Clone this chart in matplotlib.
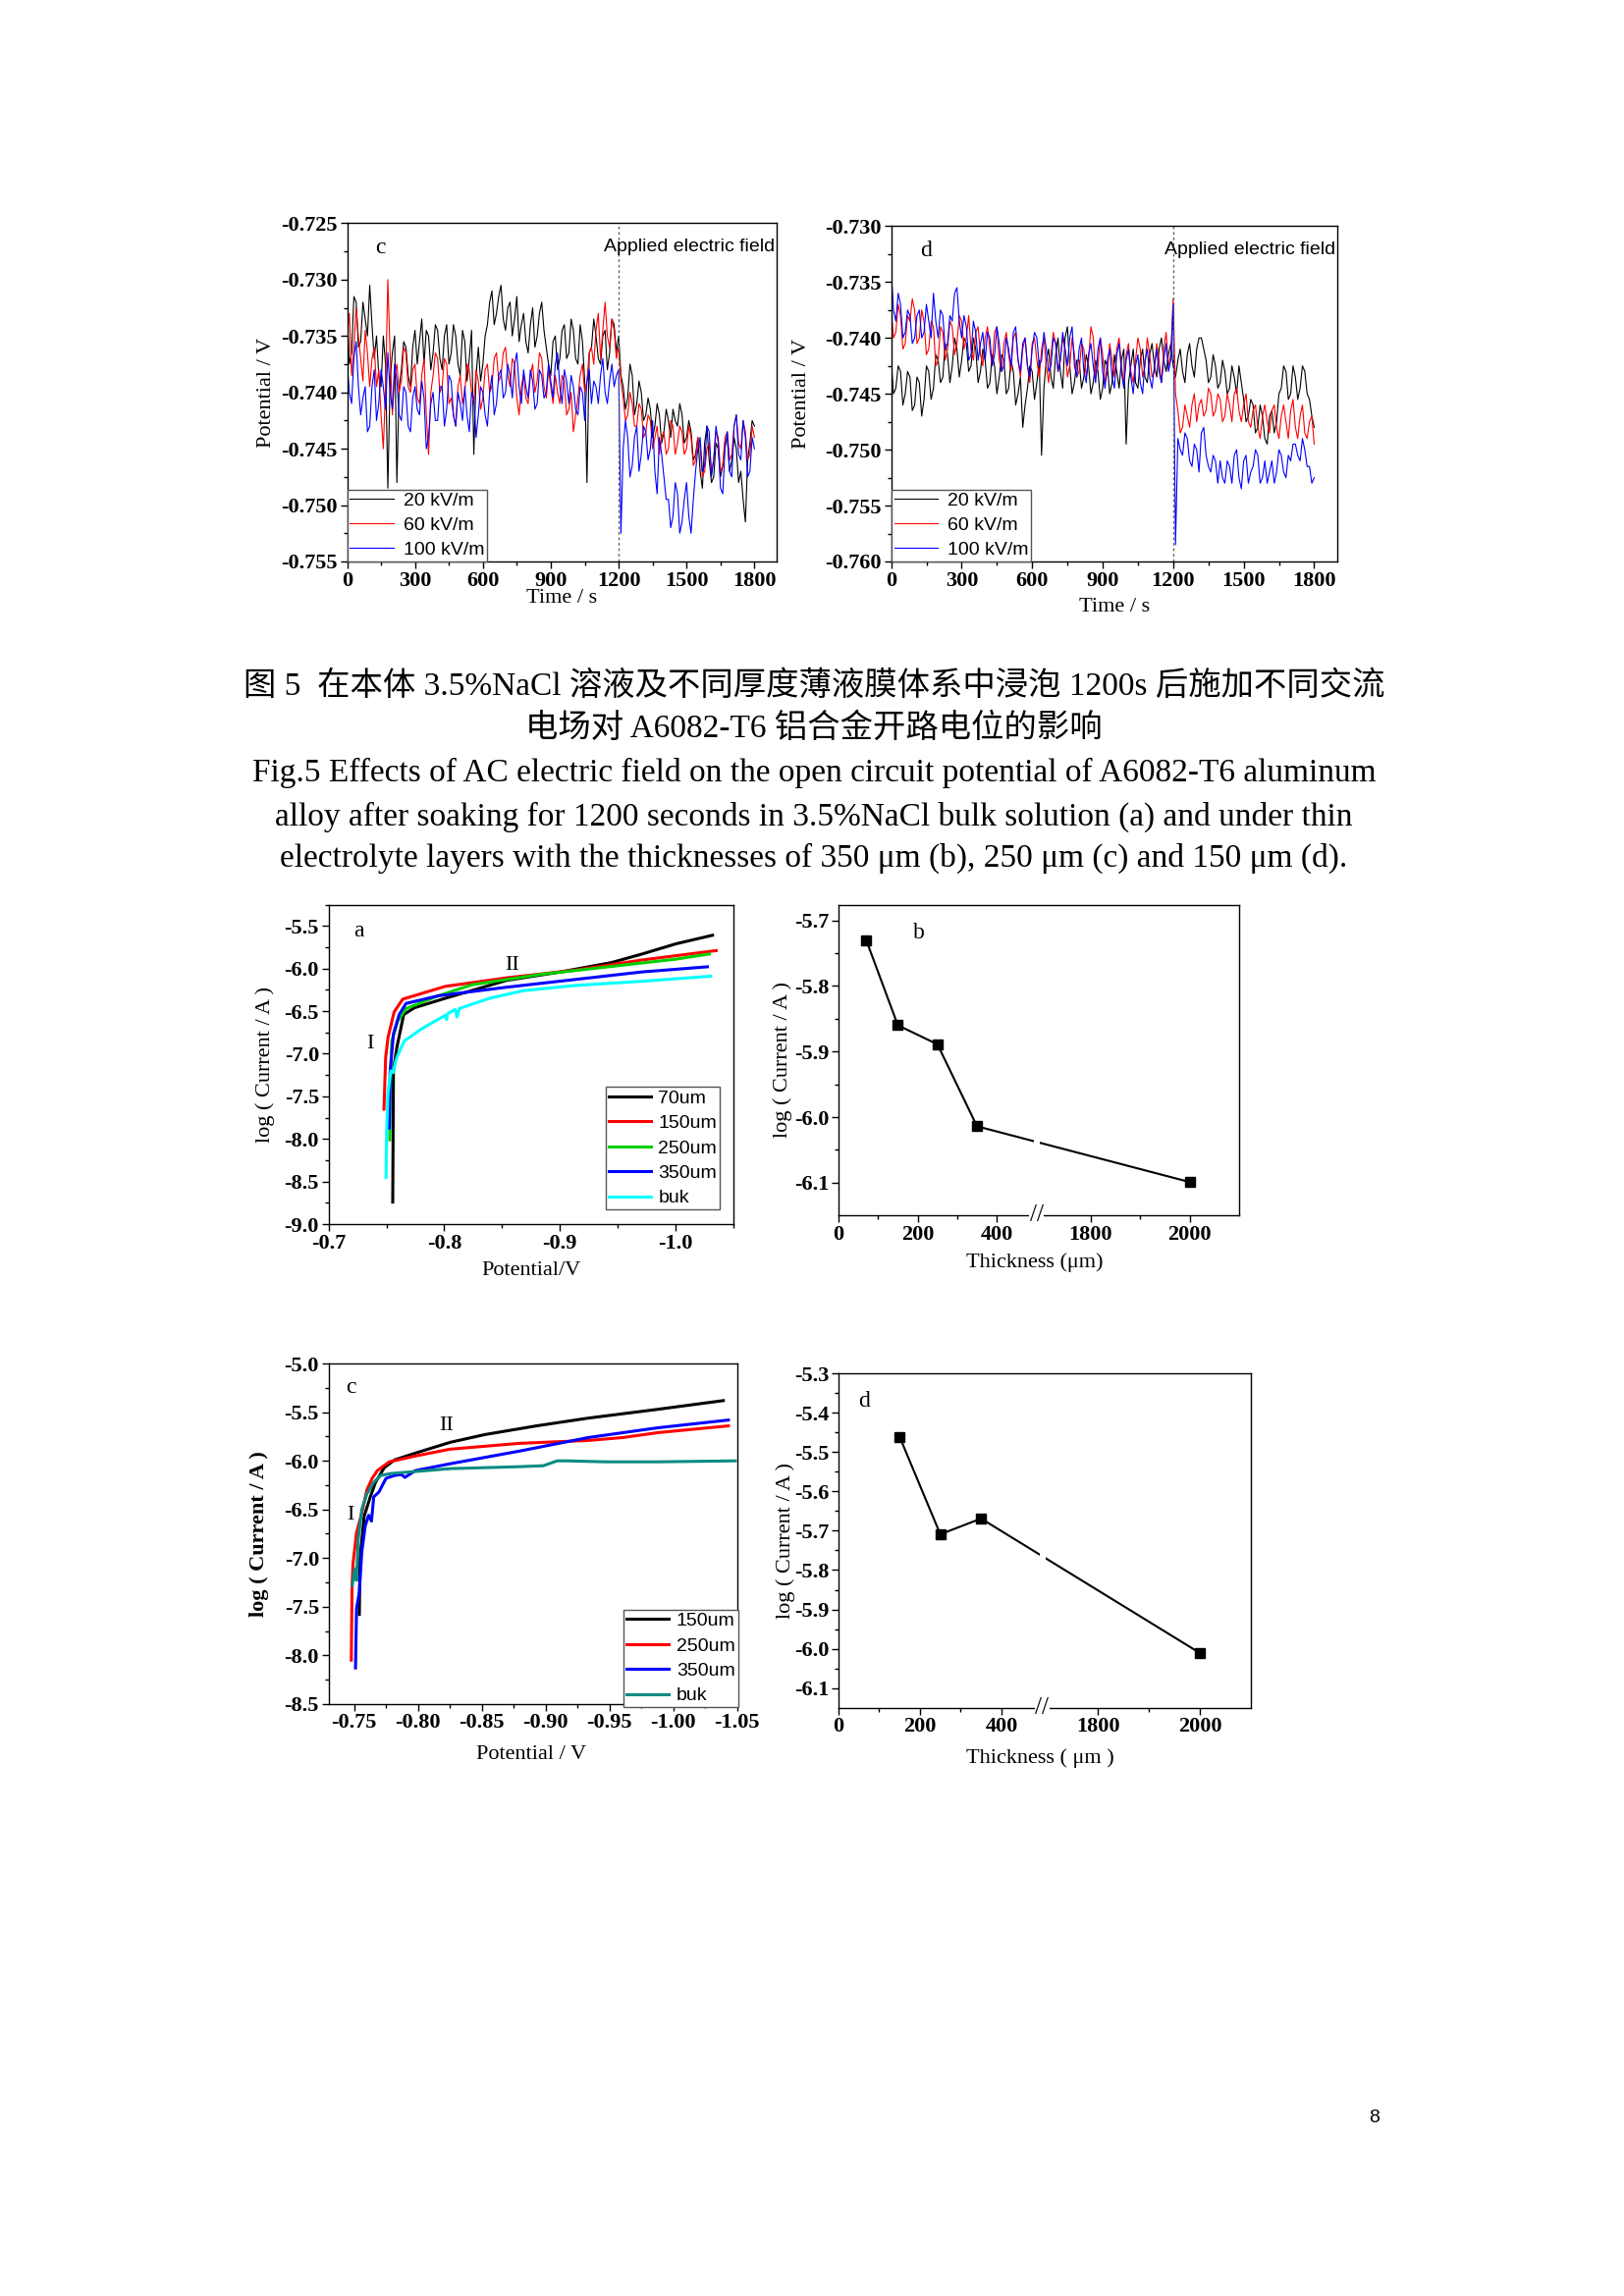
import numpy as np
import matplotlib
matplotlib.use("Agg")
import matplotlib.pyplot as plt
from matplotlib.transforms import blended_transform_factory

plt.rcParams['font.family'] = ['Liberation Serif', 'Noto Sans CJK SC']

# ---- OCP data (top row), one value every 10 s from 0 to 1800 s ----
c_20 = [-0.7330, -0.7375, -0.7365, -0.7315, -0.7320, -0.7360, -0.7355, -0.7320, -0.7335, -0.7350,
        -0.7305, -0.7340, -0.7370, -0.7350, -0.7385, -0.7395, -0.7350, -0.7375, -0.7485, -0.7390,
        -0.7365, -0.7350, -0.7480, -0.7395, -0.7380, -0.7355, -0.7360, -0.7385, -0.7395, -0.7360,
        -0.7345, -0.7375, -0.7355, -0.7335, -0.7375, -0.7345, -0.7350, -0.7380, -0.7365, -0.7340,
        -0.7345, -0.7370, -0.7380, -0.7350, -0.7340, -0.7375, -0.7365, -0.7340, -0.7350, -0.7375,
        -0.7385, -0.7345, -0.7355, -0.7390, -0.7370, -0.7345, -0.7455, -0.7385, -0.7360, -0.7390,
        -0.7375, -0.7350, -0.7340, -0.7320, -0.7310, -0.7340, -0.7330, -0.7315, -0.7305, -0.7335,
        -0.7345, -0.7325, -0.7320, -0.7350, -0.7335, -0.7315, -0.7355, -0.7340, -0.7330, -0.7355,
        -0.7365, -0.7340, -0.7325, -0.7360, -0.7350, -0.7330, -0.7320, -0.7345, -0.7360, -0.7375,
        -0.7385, -0.7355, -0.7350, -0.7380, -0.7370, -0.7345, -0.7340, -0.7370, -0.7365, -0.7335,
        -0.7345, -0.7370, -0.7375, -0.7340, -0.7355, -0.7390, -0.7480, -0.7365, -0.7360, -0.7335,
        -0.7350, -0.7370, -0.7375, -0.7350, -0.7345, -0.7380, -0.7365, -0.7335, -0.7340, -0.7365,
        -0.7350, -0.7385, -0.7395, -0.7415, -0.7405, -0.7375, -0.7385, -0.7420, -0.7410, -0.7390,
        -0.7400, -0.7425, -0.7420, -0.7405, -0.7415, -0.7440, -0.7430, -0.7410, -0.7420, -0.7445,
        -0.7435, -0.7415, -0.7425, -0.7440, -0.7415, -0.7425, -0.7430, -0.7410, -0.7420, -0.7445,
        -0.7440, -0.7425, -0.7435, -0.7460, -0.7455, -0.7440, -0.7470, -0.7485, -0.7445, -0.7430,
        -0.7460, -0.7480, -0.7475, -0.7445, -0.7450, -0.7475, -0.7465, -0.7445, -0.7440, -0.7470,
        -0.7460, -0.7440, -0.7450, -0.7480, -0.7470, -0.7495, -0.7515, -0.7460, -0.7445, -0.7425,
        -0.7430]
c_60 = [-0.7350, -0.7330, -0.7385, -0.7360, -0.7325, -0.7350, -0.7370, -0.7390, -0.7345, -0.7365,
        -0.7395, -0.7370, -0.7360, -0.7395, -0.7380, -0.7420, -0.7450, -0.7395, -0.7300, -0.7365,
        -0.7420, -0.7385, -0.7375, -0.7400, -0.7390, -0.7360, -0.7365, -0.7395, -0.7400, -0.7380,
        -0.7375, -0.7405, -0.7410, -0.7385, -0.7370, -0.7420, -0.7455, -0.7400, -0.7385, -0.7365,
        -0.7370, -0.7400, -0.7395, -0.7370, -0.7375, -0.7410, -0.7405, -0.7420, -0.7430, -0.7395,
        -0.7385, -0.7410, -0.7400, -0.7375, -0.7380, -0.7400, -0.7410, -0.7380, -0.7390, -0.7415,
        -0.7405, -0.7380, -0.7375, -0.7400, -0.7395, -0.7370, -0.7365, -0.7390, -0.7385, -0.7365,
        -0.7360, -0.7385, -0.7395, -0.7370, -0.7375, -0.7405, -0.7420, -0.7395, -0.7385, -0.7405,
        -0.7410, -0.7385, -0.7375, -0.7400, -0.7390, -0.7365, -0.7370, -0.7395, -0.7405, -0.7380,
        -0.7395, -0.7410, -0.7385, -0.7400, -0.7410, -0.7385, -0.7390, -0.7420, -0.7415, -0.7400,
        -0.7435, -0.7420, -0.7405, -0.7385, -0.7375, -0.7400, -0.7390, -0.7365, -0.7360, -0.7375,
        -0.7345, -0.7330, -0.7370, -0.7345, -0.7320, -0.7350, -0.7360, -0.7335, -0.7345, -0.7370,
        -0.7360, -0.7390, -0.7405, -0.7425, -0.7420, -0.7400, -0.7410, -0.7430, -0.7430, -0.7410,
        -0.7415, -0.7440, -0.7435, -0.7420, -0.7425, -0.7450, -0.7440, -0.7430, -0.7455, -0.7440,
        -0.7435, -0.7455, -0.7450, -0.7425, -0.7430, -0.7455, -0.7445, -0.7430, -0.7435, -0.7455,
        -0.7450, -0.7430, -0.7440, -0.7465, -0.7460, -0.7440, -0.7450, -0.7475, -0.7470, -0.7450,
        -0.7445, -0.7470, -0.7460, -0.7435, -0.7440, -0.7470, -0.7465, -0.7440, -0.7435, -0.7460,
        -0.7455, -0.7430, -0.7420, -0.7445, -0.7450, -0.7425, -0.7435, -0.7460, -0.7455, -0.7430,
        -0.7440]
c_100 = [-0.7375, -0.7400, -0.7410, -0.7370, -0.7355, -0.7395, -0.7420, -0.7405, -0.7395, -0.7435,
         -0.7430, -0.7395, -0.7380, -0.7425, -0.7410, -0.7380, -0.7395, -0.7415, -0.7365, -0.7400,
         -0.7415, -0.7375, -0.7390, -0.7420, -0.7425, -0.7395, -0.7400, -0.7430, -0.7435, -0.7405,
         -0.7395, -0.7415, -0.7420, -0.7390, -0.7405, -0.7450, -0.7440, -0.7410, -0.7400, -0.7425,
         -0.7425, -0.7395, -0.7395, -0.7430, -0.7415, -0.7385, -0.7390, -0.7420, -0.7430, -0.7400,
         -0.7410, -0.7425, -0.7395, -0.7420, -0.7435, -0.7400, -0.7405, -0.7440, -0.7420, -0.7395,
         -0.7400, -0.7420, -0.7430, -0.7400, -0.7385, -0.7420, -0.7410, -0.7385, -0.7380, -0.7405,
         -0.7400, -0.7375, -0.7385, -0.7405, -0.7375, -0.7365, -0.7395, -0.7410, -0.7380, -0.7395,
         -0.7405, -0.7380, -0.7390, -0.7415, -0.7410, -0.7380, -0.7385, -0.7405, -0.7400, -0.7375,
         -0.7390, -0.7405, -0.7375, -0.7365, -0.7395, -0.7410, -0.7380, -0.7390, -0.7410, -0.7385,
         -0.7395, -0.7415, -0.7420, -0.7395, -0.7400, -0.7425, -0.7390, -0.7380, -0.7410, -0.7390,
         -0.7395, -0.7410, -0.7385, -0.7370, -0.7400, -0.7410, -0.7390, -0.7375, -0.7395, -0.7385,
         -0.7380, -0.7525, -0.7450, -0.7425, -0.7440, -0.7475, -0.7465, -0.7440, -0.7430, -0.7470,
         -0.7455, -0.7430, -0.7435, -0.7460, -0.7450, -0.7425, -0.7470, -0.7490, -0.7440, -0.7455,
         -0.7475, -0.7495, -0.7495, -0.7520, -0.7510, -0.7480, -0.7490, -0.7525, -0.7515, -0.7495,
         -0.7480, -0.7510, -0.7525, -0.7495, -0.7470, -0.7450, -0.7440, -0.7470, -0.7465, -0.7430,
         -0.7435, -0.7475, -0.7460, -0.7430, -0.7445, -0.7485, -0.7490, -0.7450, -0.7435, -0.7470,
         -0.7475, -0.7430, -0.7420, -0.7455, -0.7460, -0.7425, -0.7440, -0.7475, -0.7470, -0.7440,
         -0.7450]

d_20 = [-0.7420, -0.7450, -0.7445, -0.7425, -0.7430, -0.7460, -0.7450, -0.7430, -0.7435, -0.7465,
        -0.7460, -0.7435, -0.7440, -0.7470, -0.7455, -0.7425, -0.7430, -0.7455, -0.7445, -0.7415,
        -0.7420, -0.7440, -0.7435, -0.7405, -0.7415, -0.7440, -0.7425, -0.7400, -0.7410, -0.7435,
        -0.7420, -0.7400, -0.7405, -0.7430, -0.7425, -0.7400, -0.7410, -0.7440, -0.7430, -0.7410,
        -0.7420, -0.7445, -0.7440, -0.7415, -0.7425, -0.7450, -0.7435, -0.7415, -0.7420, -0.7450,
        -0.7445, -0.7420, -0.7430, -0.7460, -0.7450, -0.7435, -0.7480, -0.7460, -0.7445, -0.7425,
        -0.7430, -0.7455, -0.7440, -0.7420, -0.7505, -0.7445, -0.7420, -0.7410, -0.7435, -0.7445,
        -0.7415, -0.7400, -0.7430, -0.7445, -0.7400, -0.7390, -0.7425, -0.7450, -0.7440, -0.7420,
        -0.7420, -0.7445, -0.7435, -0.7415, -0.7425, -0.7450, -0.7440, -0.7420, -0.7430, -0.7455,
        -0.7445, -0.7420, -0.7425, -0.7450, -0.7440, -0.7415, -0.7430, -0.7445, -0.7420, -0.7410,
        -0.7495, -0.7440, -0.7425, -0.7410, -0.7440, -0.7445, -0.7420, -0.7410, -0.7435, -0.7440,
        -0.7415, -0.7405, -0.7425, -0.7435, -0.7410, -0.7400, -0.7420, -0.7430, -0.7415, -0.7405,
        -0.7425, -0.7435, -0.7420, -0.7410, -0.7430, -0.7440, -0.7415, -0.7405, -0.7425, -0.7435,
        -0.7410, -0.7400, -0.7400, -0.7410, -0.7420, -0.7440, -0.7435, -0.7415, -0.7425, -0.7445,
        -0.7440, -0.7420, -0.7430, -0.7450, -0.7445, -0.7425, -0.7435, -0.7450, -0.7425, -0.7440,
        -0.7455, -0.7475, -0.7470, -0.7455, -0.7460, -0.7485, -0.7480, -0.7460, -0.7470, -0.7490,
        -0.7495, -0.7470, -0.7465, -0.7485, -0.7475, -0.7450, -0.7445, -0.7425, -0.7430, -0.7455,
        -0.7450, -0.7425, -0.7435, -0.7455, -0.7445, -0.7425, -0.7430, -0.7450, -0.7455, -0.7470,
        -0.7480]
d_60 = [-0.7375, -0.7400, -0.7395, -0.7370, -0.7380, -0.7410, -0.7405, -0.7380, -0.7385, -0.7365,
        -0.7375, -0.7405, -0.7400, -0.7375, -0.7385, -0.7415, -0.7410, -0.7385, -0.7390, -0.7425,
        -0.7420, -0.7390, -0.7395, -0.7420, -0.7410, -0.7385, -0.7390, -0.7415, -0.7405, -0.7380,
        -0.7385, -0.7410, -0.7400, -0.7380, -0.7410, -0.7420, -0.7395, -0.7390, -0.7415, -0.7425,
        -0.7400, -0.7390, -0.7410, -0.7425, -0.7395, -0.7390, -0.7420, -0.7430, -0.7405, -0.7395,
        -0.7415, -0.7430, -0.7400, -0.7395, -0.7420, -0.7435, -0.7410, -0.7400, -0.7425, -0.7440,
        -0.7405, -0.7400, -0.7420, -0.7435, -0.7410, -0.7400, -0.7425, -0.7440, -0.7415, -0.7395,
        -0.7405, -0.7430, -0.7420, -0.7400, -0.7410, -0.7435, -0.7425, -0.7400, -0.7415, -0.7435,
        -0.7430, -0.7405, -0.7410, -0.7435, -0.7420, -0.7390, -0.7400, -0.7435, -0.7425, -0.7400,
        -0.7415, -0.7440, -0.7430, -0.7405, -0.7420, -0.7435, -0.7410, -0.7400, -0.7425, -0.7440,
        -0.7415, -0.7405, -0.7430, -0.7440, -0.7420, -0.7400, -0.7410, -0.7435, -0.7425, -0.7400,
        -0.7415, -0.7435, -0.7430, -0.7405, -0.7420, -0.7440, -0.7410, -0.7395, -0.7425, -0.7415,
        -0.7365, -0.7450, -0.7465, -0.7485, -0.7480, -0.7460, -0.7470, -0.7480, -0.7460, -0.7450,
        -0.7475, -0.7460, -0.7455, -0.7470, -0.7465, -0.7445, -0.7450, -0.7470, -0.7465, -0.7450,
        -0.7455, -0.7475, -0.7470, -0.7450, -0.7460, -0.7475, -0.7450, -0.7445, -0.7465, -0.7475,
        -0.7460, -0.7450, -0.7475, -0.7480, -0.7465, -0.7460, -0.7480, -0.7490, -0.7470, -0.7460,
        -0.7475, -0.7485, -0.7465, -0.7460, -0.7480, -0.7490, -0.7470, -0.7460, -0.7475, -0.7490,
        -0.7465, -0.7455, -0.7480, -0.7490, -0.7470, -0.7460, -0.7485, -0.7490, -0.7475, -0.7470,
        -0.7495]
d_100 = [-0.7340, -0.7375, -0.7385, -0.7360, -0.7370, -0.7400, -0.7395, -0.7375, -0.7380, -0.7405,
         -0.7400, -0.7380, -0.7375, -0.7400, -0.7395, -0.7370, -0.7385, -0.7400, -0.7360, -0.7385,
         -0.7400, -0.7375, -0.7380, -0.7410, -0.7405, -0.7380, -0.7385, -0.7360, -0.7355, -0.7385,
         -0.7400, -0.7380, -0.7390, -0.7420, -0.7415, -0.7385, -0.7395, -0.7420, -0.7405, -0.7395,
         -0.7420, -0.7395, -0.7400, -0.7425, -0.7415, -0.7390, -0.7405, -0.7430, -0.7425, -0.7400,
         -0.7410, -0.7425, -0.7395, -0.7390, -0.7420, -0.7430, -0.7405, -0.7400, -0.7425, -0.7435,
         -0.7410, -0.7395, -0.7400, -0.7425, -0.7420, -0.7395, -0.7410, -0.7430, -0.7425, -0.7400,
         -0.7405, -0.7430, -0.7420, -0.7395, -0.7410, -0.7425, -0.7400, -0.7390, -0.7425, -0.7435,
         -0.7410, -0.7400, -0.7430, -0.7440, -0.7415, -0.7405, -0.7425, -0.7440, -0.7410, -0.7400,
         -0.7430, -0.7445, -0.7420, -0.7410, -0.7435, -0.7445, -0.7415, -0.7405, -0.7430, -0.7445,
         -0.7420, -0.7410, -0.7435, -0.7450, -0.7425, -0.7415, -0.7440, -0.7450, -0.7420, -0.7410,
         -0.7435, -0.7445, -0.7425, -0.7410, -0.7430, -0.7440, -0.7420, -0.7405, -0.7430, -0.7420,
         -0.7370, -0.7585, -0.7490, -0.7500, -0.7505, -0.7485, -0.7490, -0.7510, -0.7515, -0.7495,
         -0.7500, -0.7520, -0.7485, -0.7480, -0.7505, -0.7515, -0.7520, -0.7505, -0.7510, -0.7530,
         -0.7510, -0.7525, -0.7530, -0.7510, -0.7515, -0.7530, -0.7505, -0.7500, -0.7525, -0.7535,
         -0.7510, -0.7505, -0.7530, -0.7520, -0.7515, -0.7500, -0.7505, -0.7530, -0.7525, -0.7510,
         -0.7530, -0.7520, -0.7510, -0.7530, -0.7520, -0.7500, -0.7505, -0.7520, -0.7525, -0.7505,
         -0.7510, -0.7495, -0.7495, -0.7505, -0.7510, -0.7490, -0.7500, -0.7515, -0.7515, -0.7530,
         -0.7525]
ocp_labels = ['20 kV/m', '60 kV/m', '100 kV/m']
ocp_xticks = [0, 300, 600, 900, 1200, 1500, 1800]
c_yticks = [-0.755, -0.750, -0.745, -0.740, -0.735, -0.730, -0.725]
d_yticks = [-0.760, -0.755, -0.750, -0.745, -0.740, -0.735, -0.730]

# ---- polarization curves, panel a ----
a_labels = ['70um', '150um', '250um', '350um', 'buk']
a_E = [
    [-0.7555, -0.7561, -0.7590, -0.7650, -0.7744, -0.8008, -0.8537, -0.9007, -0.9448, -0.9712, -1.0006, -1.0321],
    [-0.7479, -0.7494, -0.7514, -0.7567, -0.7641, -0.8008, -0.8537, -0.9125, -0.9712, -1.0353],
    [-0.7529, -0.7532, -0.7547, -0.7597, -0.7670, -0.7949, -0.8243, -0.8831, -0.9419, -1.0006, -1.0294],
    [-0.7526, -0.7532, -0.7561, -0.7611, -0.7670, -0.7949, -0.8537, -0.9125, -0.9712, -1.0277],
    [-0.7497, -0.7502, -0.7514, -0.7538, -0.7560, -0.7575, -0.7591, -0.7655, -0.7802, -0.8008,
     -0.8020, -0.8030, -0.8096, -0.8111, -0.8131, -0.8390, -0.8684, -0.9125, -0.9712, -1.0306],
]
a_logI = [
    [-8.74, -7.20, -6.93, -6.54, -6.46, -6.35, -6.14, -6.04, -5.93, -5.83, -5.71, -5.61],
    [-7.65, -7.04, -6.81, -6.51, -6.36, -6.21, -6.11, -6.02, -5.90, -5.79],
    [-8.01, -7.39, -6.85, -6.62, -6.47, -6.32, -6.19, -6.07, -5.98, -5.89, -5.83],
    [-7.87, -7.22, -6.77, -6.54, -6.41, -6.32, -6.22, -6.13, -6.04, -5.98],
    [-8.45, -7.93, -7.47, -7.20, -7.22, -7.12, -7.04, -6.85, -6.71, -6.55,
     -6.60, -6.53, -6.48, -6.57, -6.47, -6.35, -6.26, -6.20, -6.15, -6.09],
]
a_colors = ['black', '#ff0000', '#00d000', '#0000ff', '#00ffff']

# ---- polarization curves, panel c ----
c_labels = ['150um', '250um', '350um', 'buk']
c_E = [
    [-0.7541, -0.7546, -0.7579, -0.7627, -0.7668, -0.7736, -0.7817, -0.7980, -0.8251, -0.8522,
     -0.8928, -0.9335, -0.9877, -1.0392],
    [-0.7478, -0.7484, -0.7492, -0.7519, -0.7560, -0.7600, -0.7641, -0.7682, -0.7776, -0.7980,
     -0.8251, -0.8793, -0.9335, -0.9606, -0.9877, -1.0432],
    [-0.7511, -0.7519, -0.7541, -0.7560, -0.7587, -0.7614, -0.7636, -0.7654, -0.7695, -0.7722,
     -0.7750, -0.7817, -0.7870, -0.7898, -0.7980, -0.8251, -0.8793, -0.9335, -0.9877, -1.0432],
    [-0.7486, -0.7505, -0.7519, -0.7532, -0.7560, -0.7600, -0.7654, -0.7709, -0.7790, -0.8251,
     -0.8793, -0.8982, -0.9091, -0.9172, -0.9470, -0.9877, -1.0486],
]
c_logI = [
    [-7.58, -7.01, -6.57, -6.37, -6.22, -6.07, -5.99, -5.92, -5.81, -5.73, -5.64, -5.56, -5.47, -5.38],
    [-8.05, -7.28, -7.05, -6.74, -6.54, -6.30, -6.18, -6.10, -6.01, -5.95, -5.88, -5.82, -5.79, -5.76,
     -5.71, -5.64],
    [-8.13, -7.52, -7.35, -6.94, -6.67, -6.56, -6.62, -6.37, -6.32, -6.25, -6.18, -6.15, -6.14, -6.17,
     -6.10, -6.03, -5.90, -5.76, -5.66, -5.58],
    [-7.28, -7.11, -7.23, -6.81, -6.50, -6.34, -6.22, -6.15, -6.13, -6.08, -6.06, -6.05, -6.00, -6.00,
     -6.01, -6.01, -6.00],
]
c_colors = ['black', '#ff0000', '#0000ff', '#0b8a80']

# ---- current vs thickness, panels b and d ----
b_thick = [70, 150, 250, 350, 2000]
b_logI = [-5.730, -5.860, -5.889, -6.014, -6.099]
d_thick = [150, 250, 350, 2000]
d_logI = [-5.461, -5.709, -5.669, -6.011]

caption = [
    '图 5  在本体 3.5%NaCl 溶液及不同厚度薄液膜体系中浸泡 1200s 后施加不同交流',
    '电场对 A6082-T6 铝合金开路电位的影响',
    'Fig.5 Effects of AC electric field on the open circuit potential of A6082-T6 aluminum',
    'alloy after soaking for 1200 seconds in 3.5%NaCl bulk solution (a) and under thin',
    'electrolyte layers with the thicknesses of 350 μm (b), 250 μm (c) and 150 μm (d).',
]

W, H = 1654, 2339
S = 0.993
fig = plt.figure(figsize=(W / 100, H / 100), dpi=100)
SANS = 'Liberation Sans'
TICKFS = 16


def place(l, t_, r, b):
    l, t_, r, b = l * S, t_ * S, r * S, b * S
    return fig.add_axes([l / W, 1 - b / H, (r - l) / W, (b - t_) / H])


def style(ax, xt, xl, yt, yl, xminor, yminor):
    ax.set_xticks(xt)
    ax.set_xticklabels(xl, fontsize=TICKFS, fontweight='bold')
    ax.set_yticks(yt)
    ax.set_yticklabels(yl, fontsize=TICKFS, fontweight='bold')
    ax.set_xticks(xminor, minor=True)
    ax.set_yticks(yminor, minor=True)
    ax.tick_params(which='both', direction='out', width=1, pad=2, top=False, right=False)
    ax.tick_params(which='major', length=5)
    ax.tick_params(which='minor', length=3)
    for s in ax.spines.values():
        s.set_linewidth(1)


def mids(v):
    v = np.asarray(v)
    return (v[:-1] + v[1:]) / 2


def ocp(ax, series, yticks, letter, xlab_y, ylab_x):
    for vals, col, lab in zip(series, ['black', '#ff0000', '#0000ff'], ocp_labels):
        ax.plot(np.linspace(0, 1800, len(vals)), vals, color=col, lw=0.8, label=lab)
    ax.axvline(1200, color='#666666', lw=1, ls=(0, (2, 2)))
    ax.set_xlim(0, 1900)
    ax.set_ylim(yticks[0], yticks[-1])
    style(ax, ocp_xticks, [str(v) for v in ocp_xticks], yticks, ['%.3f' % v for v in yticks],
          mids(ocp_xticks), mids(yticks))
    ax.text(0.065, 0.927, letter, transform=ax.transAxes, fontsize=17, va='center')
    ax.text(0.995, 0.93, 'Applied electric field', transform=ax.transAxes, fontsize=14,
            family=SANS, ha='right', va='center')
    ax.set_xlabel('Time / s', fontsize=16)
    ax.set_ylabel('Potential / V', fontsize=16)
    ax.xaxis.set_label_coords(0.5, xlab_y)
    ax.yaxis.set_label_coords(ylab_x, 0.5)
    leg = ax.legend(loc='lower left', bbox_to_anchor=(0, 0), borderaxespad=0, fancybox=False,
                    edgecolor='#555555', framealpha=1, prop={'family': SANS, 'size': 14},
                    handlelength=2.3, handletextpad=0.5, labelspacing=0.38, borderpad=0.15)
    leg.get_frame().set_linewidth(1)


ax1 = place(356, 229, 797, 576)
ocp(ax1, [c_20, c_60, c_100], c_yticks, 'c', -0.081, -0.166)
ax2 = place(914, 232, 1372, 576)
ocp(ax2, [d_20, d_60, d_100], d_yticks, 'd', -0.108, -0.179)

# caption
cap_y = [704, 747, 793, 838, 881]
for line, y in zip(caption, cap_y):
    fig.text(835 * S / W, 1 - y * S / H, line, fontsize=24, ha='center', va='center')


def polar(ax, Es, Is, colors, labels, xlim, ylim, xt, xl, yt, letter, lpos, Ipos, IIpos,
          legpos, bold_ylabel):
    for E, I, col, lab in zip(Es, Is, colors, labels):
        ax.plot(E, I, color=col, lw=2.2, label=lab)
    ax.set_xlim(*xlim)
    ax.set_ylim(*ylim)
    style(ax, xt, xl, yt, ['%.1f' % v for v in yt], mids(xt), mids(yt))
    ax.text(lpos[0], lpos[1], letter, transform=ax.transAxes, fontsize=17, va='center')
    ax.text(Ipos[0], Ipos[1], 'I', fontsize=16, ha='center', va='center')
    ax.text(IIpos[0], IIpos[1], 'II', fontsize=16, ha='center', va='center')
    leg = ax.legend(loc='lower right', bbox_to_anchor=legpos, borderaxespad=0, fancybox=False,
                    edgecolor='#555555', framealpha=1, prop={'family': SANS, 'size': 14},
                    handlelength=2.2, handletextpad=0.4, labelspacing=0.40, borderpad=0.15)
    leg.get_frame().set_linewidth(1)
    ax.set_ylabel('log ( Current / A )', fontsize=16,
                  fontweight='bold' if bold_ylabel else 'normal')


axa = place(337, 928, 752, 1256)
polar(axa, a_E, a_logI, a_colors, a_labels, (-0.7, -1.05), (-9.0, -5.25),
      [-0.7, -0.8, -0.9, -1.0], ['-0.7', '-0.8', '-0.9', '-1.0'],
      [-9.0, -8.5, -8.0, -7.5, -7.0, -6.5, -6.0, -5.5], 'a', (0.063, 0.916),
      (-0.7356, -6.89), (-0.859, -5.96), (0.967, 0.046), False)
axa.set_xticks([-0.75, -0.85, -0.95, -1.05], minor=True)
axa.set_yticks([-8.75, -8.25, -7.75, -7.25, -6.75, -6.25, -5.75, -5.25], minor=True)
axa.set_xlabel('Potential/V', fontsize=16)
axa.xaxis.set_label_coords(0.5, -0.116)
axa.yaxis.set_label_coords(-0.133, 0.5)

c_xt = [-0.75, -0.80, -0.85, -0.90, -0.95, -1.00, -1.05]
axc = place(337, 1399, 756, 1748)
polar(axc, c_E, c_logI, c_colors, c_labels, (-0.73, -1.05), (-8.5, -5.0),
      c_xt, ['%.2f' % v for v in c_xt],
      [-8.5, -8.0, -7.5, -7.0, -6.5, -6.0, -5.5, -5.0], 'c', (0.042, 0.93),
      (-0.747, -6.56), (-0.8224, -5.64), (1.002, -0.01), True)
axc.set_xticks(mids(c_xt), minor=True)
axc.set_xlabel('Potential / V', fontsize=16)
axc.xaxis.set_label_coords(0.496, -0.123)
axc.yaxis.set_label_coords(-0.146, 0.5)

# broken thickness axis: 0-500 then 1690-2100
K = 1.25
bx = [-1e4, 500, 1690, 1e4]
by = [-1e4, 500, 500.001, 500.001 + (1e4 - 1690) * K]


def fwd(x):
    return np.interp(x, bx, by)


def inv(y):
    return np.interp(y, by, bx)


def thick(ax, x, y, ylim, yt, letter, lpos, xlab, xlab_y, ylab_x):
    ax.set_xscale('function', functions=(fwd, inv))
    ax.plot(x, y, color='black', lw=1.5, marker='s', ms=7, zorder=2)
    ax.axvspan(494, 1696, color='white', lw=0, zorder=2.2)
    ax.set_xlim(0, 2100)
    ax.set_ylim(*ylim)
    style(ax, [0, 200, 400, 1800, 2000], ['0', '200', '400', '1800', '2000'],
          yt, ['%.1f' % v for v in yt], [100, 300, 1900], mids(yt))
    tr = blended_transform_factory(ax.transData, ax.transAxes)
    ax.text(500, 0, '//', transform=tr, fontsize=18, ha='center', va='center',
            bbox=dict(facecolor='white', edgecolor='none', pad=0.5), zorder=5)
    ax.text(lpos[0], lpos[1], letter, transform=ax.transAxes, fontsize=17, va='center')
    ax.set_xlabel(xlab, fontsize=16)
    ax.set_ylabel('log ( Current / A )', fontsize=16)
    ax.xaxis.set_label_coords(0.49, xlab_y)
    ax.yaxis.set_label_coords(ylab_x, 0.5)


axb = place(860, 928, 1271, 1247)
thick(axb, b_thick, b_logI, (-6.15, -5.676), [-6.1, -6.0, -5.9, -5.8, -5.7], 'b',
      (0.187, 0.908), 'Thickness (μm)', -0.119, -0.114)

axd = place(860, 1409, 1283, 1752)
thick(axd, d_thick, d_logI, (-6.15, -5.3), [-6.1, -6.0, -5.9, -5.8, -5.7, -5.6, -5.5, -5.4, -5.3],
      'd', (0.047, 0.917), 'Thickness ( μm )', -0.122, -0.104)

fig.text(1409 * S / W, 1 - 2173 * S / H, '8', fontsize=14, family=SANS, ha='center', va='center')

fig.savefig('out.png', dpi=100)
